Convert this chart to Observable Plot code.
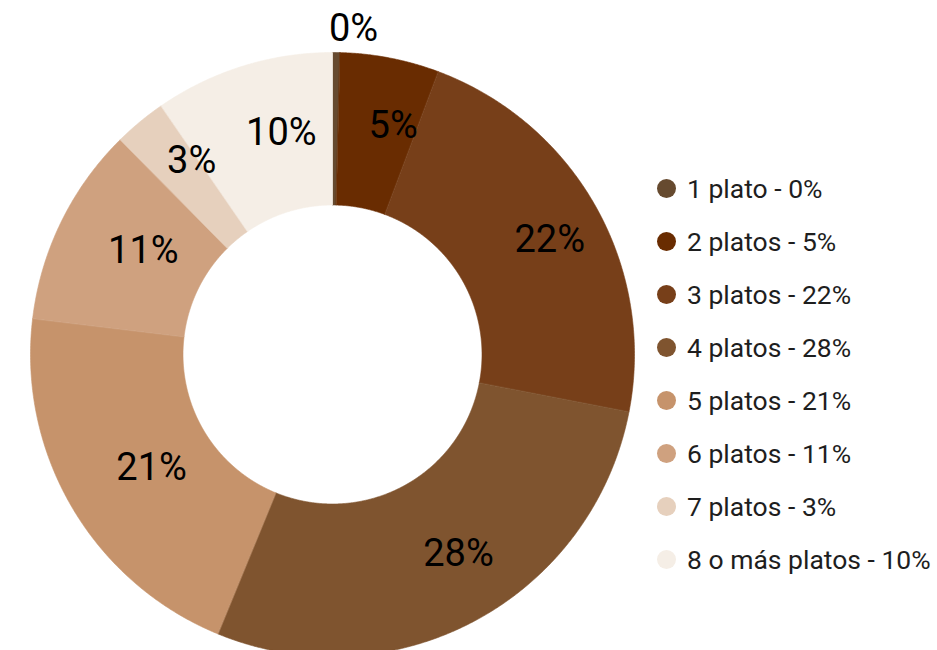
<!DOCTYPE html>
<html>
<head>
<meta charset="utf-8">
<script src="https://cdn.jsdelivr.net/npm/d3@7"></script>
<script src="https://cdn.jsdelivr.net/npm/@observablehq/plot@0.6"></script>
<style>
  body { margin: 0; background: #fff; font-family: Roboto, sans-serif; }
  #wrap { position: relative; width: 937px; height: 650px; overflow: hidden; }
  #chart { position: absolute; left: 0; top: 0; }
  #legend { position: absolute; left: 657px; top: 162px; }
  .item { display: flex; align-items: center; height: 53px; font-size: 26.5px; color: #1e1e1e; white-space: nowrap; }
  .dot { width: 19px; height: 19px; border-radius: 50%; margin-right: 11px; flex: none; }
</style>
</head>
<body>
<div id="wrap"><div id="chart"></div><div id="legend"></div></div>
<script>
const categories = ["1 plato", "2 platos", "3 platos", "4 platos", "5 platos", "6 platos", "7 platos", "8 o más platos"];
const values = [0.4, 5.3, 22.35, 28.15, 20.7, 10.7, 2.8, 9.6];
const labels = ["0%", "5%", "22%", "28%", "21%", "11%", "3%", "10%"];
const colors = ["#664a2f", "#692c01", "#773f19", "#7f542f", "#c6936b", "#cfa17f", "#e6d0bd", "#f5eee6"];

const innerR = 0.495, outerR = 1, labelR = 0.76;
const total = d3.sum(values);
const slices = [];
let acc = 0;
values.forEach((v, i) => {
  const a0 = acc / total * 2 * Math.PI;
  acc += v;
  const a1 = acc / total * 2 * Math.PI;
  slices.push({cat: categories[i], label: labels[i], a0, a1, v});
});

const pts = [];
for (const s of slices) {
  const n = Math.max(2, Math.ceil((s.a1 - s.a0) / 0.005));
  for (let k = 0; k <= n; k++) {
    const a = s.a0 + (s.a1 - s.a0) * k / n;
    pts.push({cat: s.cat, x: outerR * Math.sin(a), y: outerR * Math.cos(a)});
  }
  for (let k = n; k >= 0; k--) {
    const a = s.a0 + (s.a1 - s.a0) * k / n;
    pts.push({cat: s.cat, x: innerR * Math.sin(a), y: innerR * Math.cos(a)});
  }
}

const labelPts = slices.map(s => {
  const m = (s.a0 + s.a1) / 2;
  const r = s.v < 1 ? 1.07 : (s.v < 5 ? 0.82 : labelR);
  return {label: s.label, x: r * Math.sin(m), y: r * Math.cos(m)};
});

const chart = Plot.plot({
  width: 640,
  height: 650,
  marginLeft: 30,
  marginRight: 6,
  marginTop: 52,
  marginBottom: 0,
  style: {fontFamily: "Roboto, sans-serif", overflow: "hidden", background: "#fff"},
  x: {domain: [-1, 1], axis: null},
  y: {domain: [-(650 - 354) / 302, 1], axis: null},
  color: {type: "ordinal", domain: categories, range: colors},
  marks: [
    Plot.line(pts, {x: "x", y: "y", z: "cat", fill: "cat", stroke: "cat", strokeWidth: 0.6, curve: "linear-closed"}),
    Plot.text(labelPts, {x: "x", y: "y", text: "label", dx: 17, dy: -3, fontSize: 38, fontWeight: 400, fill: "#000", fontFamily: "Roboto, sans-serif"})
  ]
});
document.getElementById("chart").appendChild(chart);

const legend = d3.select("#legend");
categories.forEach((c, i) => {
  const it = legend.append("div").attr("class", "item");
  it.append("div").attr("class", "dot").style("background", colors[i]);
  it.append("span").text(`${c} - ${labels[i]}`);
});
</script>
</body>
</html>
